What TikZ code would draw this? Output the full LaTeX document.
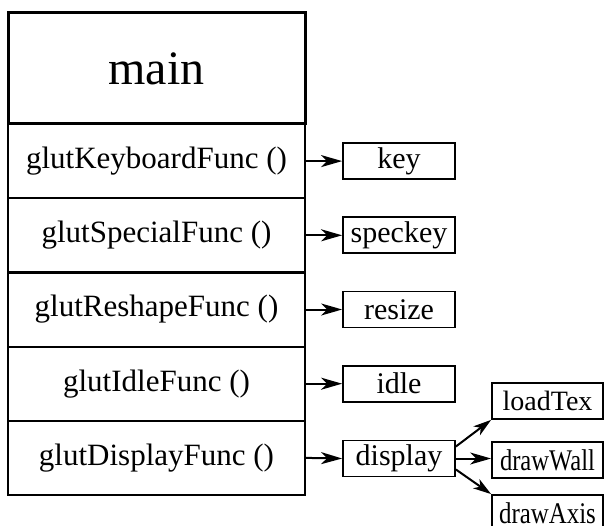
\documentclass[tikz,border=0pt]{standalone}
\usepackage{fontspec}
\setmainfont{Liberation Serif}
\usetikzlibrary{arrows.meta}

\begin{document}
\begin{tikzpicture}[x=1pt,y=-1pt,
  mainbox/.style={draw,line width=3pt,rectangle,inner sep=0pt,
    minimum width=297pt,minimum height=111pt,
    font=\fontsize{48}{54}\selectfont},
  rowbox/.style={draw,line width=2.2pt,rectangle,inner sep=0pt,
    minimum width=297pt,minimum height=74.2pt,
    font=\fontsize{31}{36}\selectfont},
  cbbox/.style={draw,line width=1.8pt,rectangle,inner sep=0pt,
    minimum width=112pt,minimum height=36pt,
    font=\fontsize{30}{34}\selectfont},
  subbox/.style={draw,line width=1.8pt,rectangle,inner sep=0pt,
    minimum width=111pt,minimum height=36pt,
    font=\fontsize{28}{32}\selectfont},
  arr/.style={line width=2pt,-{Stealth[length=21pt,width=12pt,inset=6pt]}},
  darr/.style={line width=2pt,-{Stealth[length=18pt,width=11pt,inset=5pt]}}]
  \useasboundingbox (0,0) rectangle (604,526);

  % registration calls in main
  \node[rowbox] (r1) at (156.5,161.1) {glutKeyboardFunc ()};
  \node[rowbox] (r2) at (156.5,235.3) {glutSpecialFunc ()};
  \node[rowbox] (r3) at (156.5,309.5) {glutReshapeFunc ()};
  \node[rowbox] (r4) at (156.5,383.7) {glutIdleFunc ()};
  \node[rowbox] (r5) at (156.5,457.9) {glutDisplayFunc ()};
  \node[mainbox] (main) at (156.5,68.5) {main};

  % callback functions
  \node[cbbox] (key)  at (399,161.1) {key};
  \node[cbbox] (spec) at (399,235.3) {speckey};
  \node[cbbox] (res)  at (399,309.5) {resize};
  \node[cbbox] (idle) at (399,383.7) {idle};
  \node[cbbox] (disp) at (399,458.5) {display};

  % functions called from display
  \node[subbox] (tex)  at (547.5,401) {loadTex};
  \node[subbox] (wall) at (547.5,460) {\fontsize{30}{34}\selectfont\scalebox{0.82}[1]{drawWall}};
  \node[subbox] (axis) at (547.5,513) {\fontsize{30}{34}\selectfont\scalebox{0.83}[1]{drawAxis}};

  \draw[arr] (r1.east) -- (key.west);
  \draw[arr] (r2.east) -- (spec.west);
  \draw[arr] (r3.east) -- (res.west);
  \draw[arr] (r4.east) -- (idle.west);
  \draw[arr] (r5.east) -- (disp.west);

  \draw[darr] ([yshift=12pt]disp.east) -- (tex.south west);
  \draw[arr] (disp.east) -- (wall.west |- disp.east);
  \draw[darr] ([yshift=-11pt]disp.east) -- (axis.north west);
\end{tikzpicture}
\end{document}
